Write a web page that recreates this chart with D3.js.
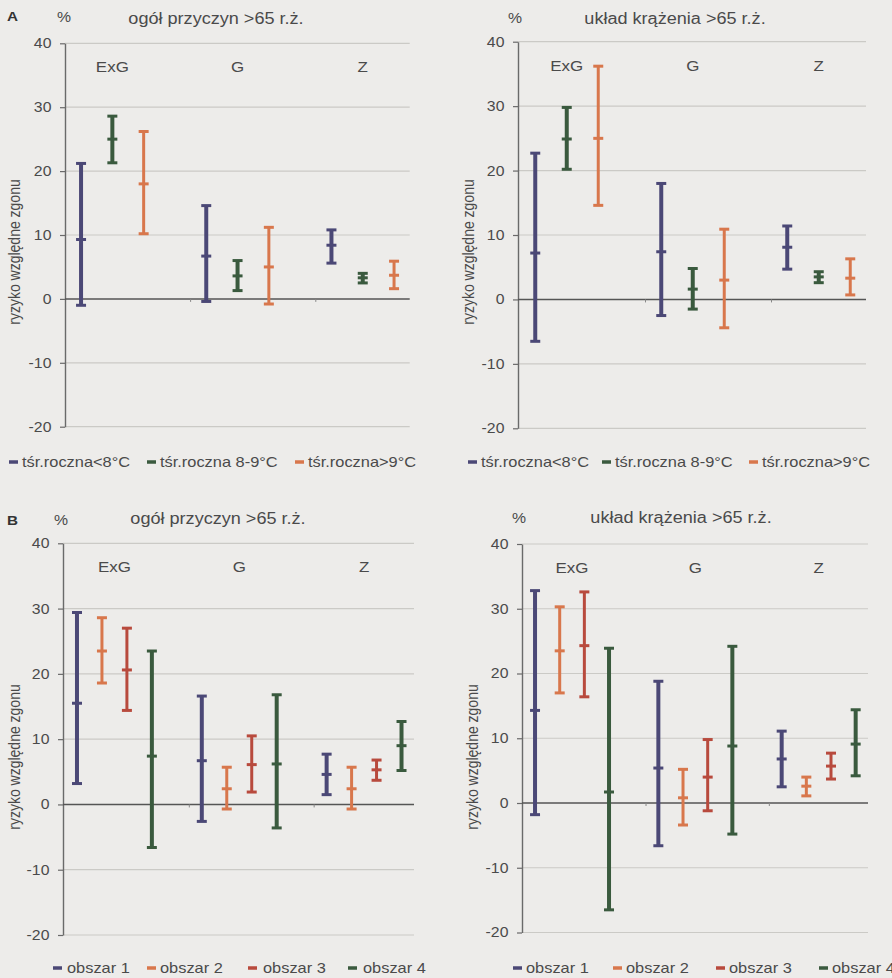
<!DOCTYPE html>
<html><head><meta charset="utf-8">
<script src="https://cdn.jsdelivr.net/npm/d3@7"></script>
<style>
body{margin:0;background:#edecea}
svg{display:block}
text{font-family:"Liberation Sans",Arial,sans-serif;fill:#4a4a4a}
</style>
</head><body>
<svg id="c" width="892" height="978"></svg>
<script>
// ---------- data ----------
const categories = ["ExG", "G", "Z"];
const yTicks = [-20, -10, 0, 10, 20, 30, 40];
const seriesA = ["tśr.roczna<8°C", "tśr.roczna 8-9°C", "tśr.roczna>9°C"];
const seriesB = ["obszar 1", "obszar 2", "obszar 3", "obszar 4"];
const titleLeft = "ogół przyczyn >65 r.ż.";
const titleRight = "układ krążenia >65 r.ż.";
const yLabel = "ryzyko względne zgonu";
const unitLabel = "%";

// each row: [low, estimate, high] for ExG, G, Z
const A_total_lt8 = [[-1.0, 9.3, 21.2], [-0.4, 6.7, 14.6], [5.6, 8.4, 10.8]];
const A_total_8_9 = [[21.3, 25.0, 28.6], [1.3, 3.6, 6.0], [2.5, 3.3, 4.0]];
const A_total_gt9 = [[10.2, 18.0, 26.2], [-0.8, 5.0, 11.2], [1.6, 3.7, 5.9]];

const A_circ_lt8 = [[-6.5, 7.2, 22.7], [-2.5, 7.4, 18.0], [4.7, 8.1, 11.4]];
const A_circ_8_9 = [[20.2, 24.9, 29.8], [-1.5, 1.6, 4.8], [2.6, 3.5, 4.3]];
const A_circ_gt9 = [[14.6, 25.0, 36.2], [-4.4, 3.0, 10.9], [0.7, 3.3, 6.3]];

const B_total_o1 = [[3.2, 15.5, 29.4], [-2.6, 6.7, 16.6], [1.5, 4.6, 7.7]];
const B_total_o2 = [[18.6, 23.5, 28.6], [-0.7, 2.4, 5.7], [-0.7, 2.4, 5.7]];
const B_total_o3 = [[14.4, 20.6, 27.0], [1.9, 6.1, 10.5], [3.7, 5.3, 6.8]];
const B_total_o4 = [[-6.6, 7.4, 23.5], [-3.6, 6.2, 16.8], [5.2, 9.0, 12.7]];

const B_circ_o1 = [[-1.8, 14.3, 32.8], [-6.6, 5.4, 18.8], [2.5, 6.8, 11.1]];
const B_circ_o2 = [[17.0, 23.5, 30.3], [-3.4, 0.8, 5.2], [1.1, 2.6, 4.0]];
const B_circ_o3 = [[16.4, 24.3, 32.6], [-1.2, 4.0, 9.8], [3.7, 5.7, 7.7]];
const B_circ_o4 = [[-16.5, 1.7, 23.9], [-4.8, 8.8, 24.2], [4.2, 9.1, 14.4]];

// ---------- styles ----------
const PURPLE = "#4b4876", GREEN = "#3a5a3e", ORANGE = "#d8774c", RED = "#b84a3d";
const colorsA = [PURPLE, GREEN, ORANGE];
const colorsB = [PURPLE, ORANGE, RED, GREEN];
const widthsA = [4, 4, 3];
const widthsB = [4, 3, 3, 4];
const SX = 1.13; // horizontal stretch of the scanned text

const panels = [
  {letter: "A", title: titleLeft, series: seriesA, colors: colorsA, widths: widthsA,
   data: [A_total_lt8, A_total_8_9, A_total_gt9],
   axisX: 65, x0: 65.4, x1: 409.7, yTop: 43.3, yBot: 426.7,
   letterPos: [7, 21], pctPos: [57, 22], titlePos: [216, 24],
   legendY: 462, legend: [[9, 22], [147, 160], [295, 308]], ylab: [20, 252]},
  {letter: null, title: titleRight, series: seriesA, colors: colorsA, widths: widthsA,
   data: [A_circ_lt8, A_circ_8_9, A_circ_gt9],
   axisX: 518, x0: 519.5, x1: 866, yTop: 41.7, yBot: 428.3,
   pctPos: [508, 23], titlePos: [675, 24],
   legendY: 462, legend: [[468, 481], [602, 615], [749, 762]], ylab: [474, 252]},
  {letter: "B", title: titleLeft, series: seriesB, colors: colorsB, widths: widthsB,
   data: [B_total_o1, B_total_o2, B_total_o3, B_total_o4],
   axisX: 63, x0: 64.5, x1: 414, yTop: 543.3, yBot: 935,
   letterPos: [7, 525], pctPos: [54, 525], titlePos: [218, 524],
   legendY: 968, legend: [[53, 67], [147, 160], [248, 263], [348, 363]], ylab: [20, 757]},
  {letter: null, title: titleRight, series: seriesB, colors: colorsB, widths: widthsB,
   data: [B_circ_o1, B_circ_o2, B_circ_o3, B_circ_o4],
   axisX: 522, x0: 522.7, x1: 868, yTop: 544, yBot: 932.5,
   pctPos: [512, 523], titlePos: [681, 523],
   legendY: 968, legend: [[513, 526], [613, 626], [716, 729], [819, 832]], ylab: [478, 757]}
];

const svg = d3.select("#c");
svg.append("rect").attr("width", 892).attr("height", 978).attr("fill", "#edecea");

function label(g, x, y, s, o = {}) {
  const size = o.size || 14, anchor = o.anchor || "start", rot = o.rotate || 0;
  const tr = rot ? `translate(${x},${y}) rotate(${rot}) scale(1,${SX})` : `translate(${x},${y}) scale(${SX},1)`;
  return g.append("text").attr("transform", tr)
    .attr("text-anchor", anchor)
    .style("font-size", size + "px")
    .style("font-weight", o.weight || "normal")
    .style("fill", o.fill || "#4a4a4a")
    .text(s);
}

panels.forEach(p => {
  const g = svg.append("g");
  const nS = p.series.length;
  const nSlots = categories.length * (nS + 1) - 1;
  const x = d3.scaleBand().domain(d3.range(nSlots)).range([p.x0, p.x1]).paddingInner(0).paddingOuter(0);
  const bw = x.bandwidth();
  const y = d3.scaleLinear().domain([-20, 40]).range([p.yBot, p.yTop]);

  // gridlines
  g.append("g").selectAll("line").data(yTicks.filter(d => d !== 0)).join("line")
    .attr("x1", p.axisX).attr("x2", p.x1)
    .attr("y1", d => y(d)).attr("y2", d => y(d))
    .attr("stroke", "#cbcac6").attr("stroke-width", 1.2);

  // y axis
  const ax = g.append("g").attr("transform", `translate(${p.axisX},0)`)
    .call(d3.axisLeft(y).tickValues(yTicks).tickSize(5).tickSizeOuter(0).tickPadding(7).tickFormat(d => String(d)));
  ax.select(".domain").attr("stroke", "#6a6a6a").attr("stroke-width", 1.4);
  ax.selectAll(".tick line").attr("stroke", "#6a6a6a").attr("stroke-width", 1.2);
  ax.selectAll(".tick text").attr("fill", "#4a4a4a").style("font-size", "14px")
    .style("font-family", '"Liberation Sans",Arial,sans-serif')
    .attr("transform", `scale(${SX},1)`);

  // zero line
  g.append("line").attr("x1", p.axisX).attr("x2", p.x1).attr("y1", y(0)).attr("y2", y(0))
    .attr("stroke", "#555").attr("stroke-width", 1.5);
  // category boundary ticks on the zero line
  g.append("g").selectAll("line").data(d3.range(1, categories.length)).join("line")
    .attr("x1", c => x(c * (nS + 1))).attr("x2", c => x(c * (nS + 1)))
    .attr("y1", y(0)).attr("y2", y(0) + 3)
    .attr("stroke", "#888").attr("stroke-width", 1);

  // category labels
  categories.forEach((c, ci) => {
    const first = x(ci * (nS + 1)), last = x(ci * (nS + 1) + nS - 1) + bw;
    label(g, (first + last) / 2, y(40) + 29, c, {size: 15, anchor: "middle"});
  });

  // error bars
  p.series.forEach((s, si) => {
    const col = p.colors[si], w = p.widths[si];
    const sg = g.append("g");
    const rows = p.data[si].map((v, ci) => ({ci, lo: v[0], mid: v[1], hi: v[2], cx: x(ci * (nS + 1) + si) + bw / 2}));
    sg.selectAll("line.v").data(rows).join("line").attr("class", "v")
      .attr("x1", d => d.cx).attr("x2", d => d.cx)
      .attr("y1", d => y(d.lo)).attr("y2", d => y(d.hi))
      .attr("stroke", col).attr("stroke-width", w);
    ["lo", "mid", "hi"].forEach(k => {
      sg.selectAll("line." + k).data(rows).join("line").attr("class", k)
        .attr("x1", d => d.cx - 5).attr("x2", d => d.cx + 5)
        .attr("y1", d => y(d[k])).attr("y2", d => y(d[k]))
        .attr("stroke", col).attr("stroke-width", 3);
    });
  });

  // titles
  if (p.letter) label(g, p.letterPos[0], p.letterPos[1], p.letter, {size: 13.5, weight: "bold", fill: "#333"});
  label(g, p.pctPos[0], p.pctPos[1], unitLabel, {size: 14});
  label(g, p.titlePos[0], p.titlePos[1], p.title, {size: 16, anchor: "middle"});
  label(g, p.ylab[0], p.ylab[1], yLabel, {size: 14, anchor: "middle", rotate: -90});

  // legend
  p.series.forEach((s, si) => {
    const [mx, tx] = p.legend[si];
    g.append("line").attr("x1", mx).attr("x2", mx + 9).attr("y1", p.legendY).attr("y2", p.legendY)
      .attr("stroke", p.colors[si]).attr("stroke-width", 3.5);
    label(g, tx, p.legendY + 5, s, {size: 14.5});
  });
});
</script>
</body></html>
